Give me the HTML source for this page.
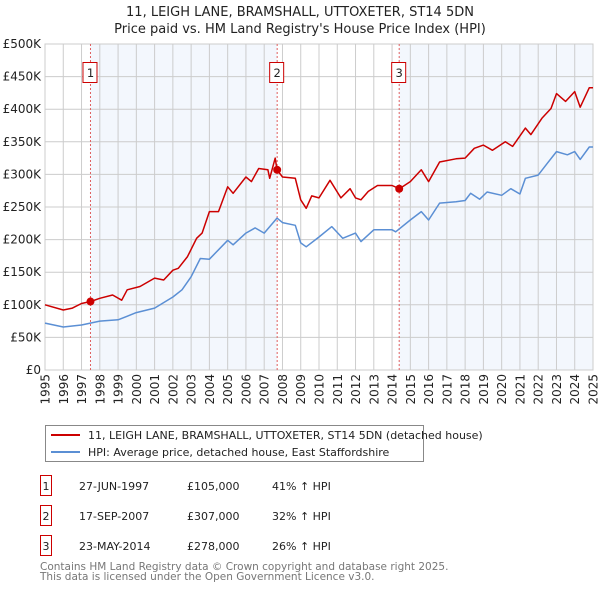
<!DOCTYPE html>
<html><head><meta charset="utf-8"><style>
body{margin:0;background:#fff;font-family:"Liberation Sans","DejaVu Sans",sans-serif;}
svg text{font-family:"DejaVu Sans","Liberation Sans",sans-serif;}
</style></head><body>
<svg id="c" width="600" height="590" xmlns="http://www.w3.org/2000/svg">
<text x="300" y="16" text-anchor="middle" font-size="13" fill="#222">11, LEIGH LANE, BRAMSHALL, UTTOXETER, ST14 5DN</text>
<text x="300" y="33" text-anchor="middle" font-size="13" fill="#222">Price paid vs. HM Land Registry's House Price Index (HPI)</text>
<g id="plot"></g>
<g>
<rect x="45.5" y="425.5" width="378" height="36" fill="#fff" stroke="#888"/>
<line x1="51" y1="435" x2="80" y2="435" stroke="#cc0000" stroke-width="2"/>
<text x="88" y="439" font-size="11" fill="#222">11, LEIGH LANE, BRAMSHALL, UTTOXETER, ST14 5DN (detached house)</text>
<line x1="51" y1="452" x2="80" y2="452" stroke="#5b8fd4" stroke-width="2"/>
<text x="88" y="456" font-size="11" fill="#222">HPI: Average price, detached house, East Staffordshire</text>
</g>
<g font-size="11" fill="#222">
<rect x="40.5" y="475.5" width="11" height="20" fill="none" stroke="#cc0000"/><text x="46" y="490" text-anchor="middle">1</text>
<text x="79" y="490">27-JUN-1997</text><text x="187" y="490">£105,000</text><text x="272" y="490">41% ↑ HPI</text>
<rect x="40.5" y="505.5" width="11" height="20" fill="none" stroke="#cc0000"/><text x="46" y="520" text-anchor="middle">2</text>
<text x="79" y="520">17-SEP-2007</text><text x="187" y="520">£307,000</text><text x="272" y="520">32% ↑ HPI</text>
<rect x="40.5" y="535.5" width="11" height="20" fill="none" stroke="#cc0000"/><text x="46" y="550" text-anchor="middle">3</text>
<text x="79" y="550">23-MAY-2014</text><text x="187" y="550">£278,000</text><text x="272" y="550">26% ↑ HPI</text>
</g>
<text x="40" y="570" font-size="10.5" fill="#777">Contains HM Land Registry data © Crown copyright and database right 2025.</text>
<text x="40" y="580" font-size="10.5" fill="#777">This data is licensed under the Open Government Licence v3.0.</text>
</svg>
<script>
const hpiYears=[1995,1996,1997,1998,1999,2000,2001,2002,2002.5,2003,2003.5,2004,2005,2005.3,2006,2006.5,2007,2007.7,2008,2008.7,2009,2009.3,2010,2010.7,2011.3,2012,2012.3,2013,2014,2014.2,2015,2015.6,2016,2016.6,2017.5,2018,2018.3,2018.8,2019.2,2020,2020.5,2021,2021.3,2022,2022.5,2023,2023.6,2024,2024.3,2024.8,2025];
const hpiValues=[72,66,69,75,77,88,95,112,123,143,171,170,199,192,210,218,210,233,226,222,195,189,204,220,202,210,197,215,215,212,230,243,230,256,258,260,271,262,273,268,278,270,294,299,317,335,330,335,323,342,342];
const priceYears=[1995,1996,1996.5,1997,1997.5,1998,1998.7,1999.2,1999.5,2000.2,2001,2001.5,2002,2002.3,2002.8,2003.3,2003.6,2004,2004.5,2005,2005.3,2006,2006.3,2006.7,2007.2,2007.3,2007.6,2007.7,2008,2008.7,2009,2009.3,2009.6,2010,2010.6,2011.2,2011.7,2012,2012.3,2012.7,2013.2,2014,2014.4,2015,2015.6,2016,2016.6,2017.5,2018,2018.5,2019,2019.5,2020.2,2020.6,2021.3,2021.6,2022.2,2022.7,2023,2023.5,2024,2024.3,2024.8,2025];
const priceValues=[100,92,95,102,105,110,115,107,123,128,141,138,153,156,174,202,210,243,243,281,271,296,289,309,307,294,325,307,296,294,261,248,267,264,291,264,278,264,261,274,283,283,278,289,307,289,319,324,325,340,345,337,350,343,371,361,386,401,424,412,427,403,433,433];
const saleYears=[1997.49,2007.71,2014.39];
const saleValues=[105,307,278];
const saleLabels=["1","2","3"];
const yTicks=[0,50,100,150,200,250,300,350,400,450,500];
const yTickLabels=["£0","£50K","£100K","£150K","£200K","£250K","£300K","£350K","£400K","£450K","£500K"];
const xTicks=[1995,1996,1997,1998,1999,2000,2001,2002,2003,2004,2005,2006,2007,2008,2009,2010,2011,2012,2013,2014,2015,2016,2017,2018,2019,2020,2021,2022,2023,2024,2025];

const X0=45,X1=593,Y0=370,Y1=44;
const xs=y=>X0+(y-1995)/30*(X1-X0);
const ys=v=>Y0-v/500*(Y0-Y1);
const NS="http://www.w3.org/2000/svg";
const g=document.getElementById('plot');
function el(t,a,p){const e=document.createElementNS(NS,t);for(const k in a)e.setAttribute(k,a[k]);(p||g).appendChild(e);return e;}
let s1=el('rect',{x:xs(saleYears[0]),y:Y1,width:xs(saleYears[1])-xs(saleYears[0]),height:Y0-Y1,fill:'#eef3fc',opacity:0.7});


let s2=el('rect',{x:xs(saleYears[2]),y:Y1,width:X1-xs(saleYears[2]),height:Y0-Y1,fill:'#eef3fc',opacity:0.7});


yTicks.forEach((v,i)=>{
 el('line',{x1:X0,x2:X1,y1:ys(v),y2:ys(v),stroke:'#ccc','stroke-width':1});
 const t=el('text',{x:X0-4,y:ys(v)+4,'text-anchor':'end','font-size':12,fill:'#222'});t.textContent=yTickLabels[i];
 
 
});
xTicks.forEach(y=>{
 el('line',{x1:xs(y),x2:xs(y),y1:Y1,y2:Y0,stroke:'#ccc','stroke-width':1});
 const t=el('text',{transform:`translate(${xs(y)+4.5},${Y0+4}) rotate(-90)`,'text-anchor':'end','font-size':12,fill:'#222'});t.textContent=y;
 
 
});
el('rect',{x:X0,y:Y1,width:X1-X0,height:Y0-Y1,fill:'none',stroke:'#ccc'});
saleYears.forEach((y,i)=>{
 el('line',{x1:xs(y),x2:xs(y),y1:Y1,y2:Y0,stroke:'#e06060','stroke-dasharray':'2,2','stroke-width':1});
 const r=el('rect',{x:xs(y)-7.5,y:62.5,width:14,height:20,fill:'#fff',stroke:'#cc0000'});
 
 
 const t=el('text',{x:xs(y),y:77,'text-anchor':'middle','font-size':11.5,fill:'#222'});t.textContent=saleLabels[i];
});
function line(xa,va,color,name){
 const d=xa.map((y,i)=>(i?'L':'M')+xs(y).toFixed(1)+','+ys(va[i]).toFixed(1)).join('');
 const p=el('path',{d:d,fill:'none',stroke:color,'stroke-width':1.5,'stroke-linejoin':'round'});
 
 
}
line(hpiYears,hpiValues,'#5b8fd4','hpi-line');
line(priceYears,priceValues,'#cc0000','price-line');
saleYears.forEach((y,i)=>{
 const c=el('circle',{cx:xs(y),cy:ys(saleValues[i]),r:4,fill:'#cc0000'});
 
 
});
</script>
</body></html>
